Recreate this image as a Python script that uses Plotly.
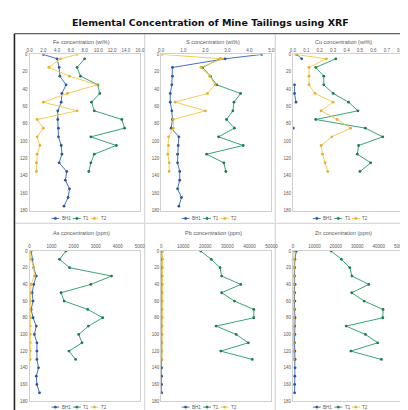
import plotly.graph_objects as go

W, H = 408, 410

# ---------------- data ----------------
depth_top = [0, 5, 15, 25, 35, 45, 55, 65, 75, 85, 95, 105, 115, 125, 135, 145, 155, 165, 175]
depth_bot = [0, 10, 20, 30, 40, 50, 60, 70, 80, 90, 100, 110, 120, 130, 140, 150, 160, 170]
series_names = ["BH1", "T1", "T2"]

fe_1 = [2.0, 4.0, 4.3, 4.4, 5.3, 4.7, 4.6, 4.1, 4.1, 4.2, 4.2, 4.6, 4.7, 4.3, 5.4, 5.2, 5.8, 5.6, 5.0]
fe_2 = [None, 8.0, 6.9, 7.4, 9.9, 10.2, 9.0, 9.4, 13.4, 13.8, 8.9, 12.6, 9.4, 8.9, 8.6]
fe_3 = [6.9, 4.5, 2.8, 5.8, 9.8, 5.5, 2.0, 6.9, 1.1, 2.0, 1.1, 1.5, 1.1, 1.0, 1.0]

s_1 = [4.56, 2.9, 0.51, 0.51, 0.48, 0.41, 0.41, 0.48, 0.51, 0.45, 0.80, 0.77, 0.74, 0.74, 0.84, 0.84, 0.74, 0.92, 0.80]
s_2 = [None, 2.67, 1.87, 2.23, 2.52, 3.60, 3.30, 3.25, 2.96, 3.32, 2.60, 3.72, 2.06, 2.84, 2.93]
s_3 = [0.05, 2.75, 1.80, 2.20, 2.45, 2.10, 0.63, 2.00, 0.55, 0.55, 0.33, 0.33, 0.30, 0.36, 0.36]

cu_1 = [0.03, 0.065, None, None, 0.012, 0.012, 0.023, None, None, 0.003]
cu_2 = [None, 0.32, 0.17, 0.23, 0.23, 0.30, 0.415, 0.485, 0.17, 0.54, 0.67, 0.49, 0.48, 0.58, 0.50]
cu_3 = [0.02, 0.25, 0.12, 0.12, 0.12, 0.165, 0.30, 0.21, 0.33, 0.43, 0.29, 0.21, 0.22, 0.24, 0.26]

as_1 = [73, 117, 190, 306, 190, 117, 160, 73, 160, 306, 219, 335, 335, 335, 408, 306, 335, 452]
as_2 = [1650, 1360, 1820, 3720, 2780, 1430, 1570, 2640, 3320, 2670, 2230, 2380, 1790, 2090]
as_3 = [40, 70, 190, 220, 70, 40, 40, 30, 40, 30, 30, 30, 30, 30]

pb_1 = [300, 250, 200, 200, 250, 200, 200, 150, 200, 200, 150, 150, 150, 200, 150, 150, 150, 200]
pb_2 = [17900, 22700, 26700, 27400, 36100, 27400, 33200, 42000, 42000, 24900, 34000, 39500, 27000, 41300]
pb_3 = [650, 600, 550, 500, 500, 450, 450, 400, 450, 400, 400, 400, 350, 350]

zn_1 = [1600, 900, 800, 750, 1000, 800, 900, 750, 1000, 800, 900, 750, 900, 1000, 1000, 900, 800, 800]
zn_2 = [17800, 22600, 26500, 27500, 35400, 27400, 33200, 42000, 41900, 24800, 33800, 39500, 27000, 41200]
zn_3 = [500, 450, 400, 400, 400, 350, 350, 350, 350, 300, 300, 300, 300, 300]

titles = ["Fe concentration (wt%)", "S concentration (wt%)", "Cu concentration (wt%)",
          "As concentration (ppm)", "Pb concentration (ppm)", "Zn concentration (ppm)"]
x_ranges = [(0, 16, 2), (0, 5, 1), (0, 0.8, 0.1), (0, 5000, 1000), (0, 50000, 10000), (0, 50000, 10000)]
x_formats = [".1f", ".1f", ".1f", "d", "d", "d"]
panels = [
    (depth_top, [fe_1, fe_2, fe_3]),
    (depth_top, [s_1, s_2, s_3]),
    (depth_top, [cu_1, cu_2, cu_3]),
    (depth_bot, [as_1, as_2, as_3]),
    (depth_bot, [pb_1, pb_2, pb_3]),
    (depth_bot, [zn_1, zn_2, zn_3]),
]

line_colors = ["#4472C4", "#3aa574", "#f6cb52"]
marker_colors = ["#2f5597", "#1f7a50", "#e3b130"]

# ---------------- layout geometry (pixels) ----------------
col_plot = [(19, 132), (154, 267), (289, 399)]
row_plot = [(45, 203), (244, 396)]
col_panel = [(4, 137), (137, 271), (271, 406)]
row_panel = [(24, 216), (216, 409)]
row_title_y = [32, 226]
row_legend_y = [211, 402]

def px(x):
    return x / W

def py(y):
    return 1 - y / H

fig = go.Figure()
shapes = []
annotations = []
axis_font = dict(family="Liberation Sans", size=4.5, color="#595959")

for i, (depth, vals) in enumerate(panels):
    r, c = divmod(i, 3)
    n = i + 1
    xa = "x" if n == 1 else f"x{n}"
    ya = "y" if n == 1 else f"y{n}"
    for k, v in enumerate(vals):
        fig.add_trace(go.Scatter(
            x=v, y=depth[:len(v)], mode="lines+markers", name=series_names[k],
            xaxis=xa, yaxis=ya, showlegend=False,
            line=dict(color=line_colors[k], width=1),
            marker=dict(color=marker_colors[k], size=2.8),
            connectgaps=False,
        ))
    x0, x1 = col_plot[c]
    y0, y1 = row_plot[r]
    lo, hi, step = x_ranges[i]
    xkey = "xaxis" if n == 1 else f"xaxis{n}"
    ykey = "yaxis" if n == 1 else f"yaxis{n}"
    fig.update_layout({
        xkey: dict(domain=[px(x0), px(x1)], range=[lo, hi], dtick=step, tick0=0,
                   side="top", tickformat=x_formats[i], anchor=ya, showgrid=False,
                   zeroline=False, showline=True, mirror=True, linecolor="#d0d0d0",
                   linewidth=1, ticks="", tickfont=axis_font),
        ykey: dict(domain=[py(y1), py(y0)], range=[180, 0], dtick=20, tick0=0,
                   anchor=xa, showgrid=False, zeroline=False, showline=True,
                   mirror=True, linecolor="#d0d0d0", linewidth=1, ticks="",
                   tickfont=axis_font),
    })
    # panel border
    pxa, pxb = col_panel[c]
    pya, pyb = row_panel[r]
    shapes.append(dict(type="rect", xref="paper", yref="paper",
                       x0=px(pxa), x1=px(pxb), y0=py(pyb), y1=py(pya),
                       line=dict(color="#d9d9d9", width=1), layer="below"))
    # panel title
    annotations.append(dict(text=titles[i], xref="paper", yref="paper",
                            x=px((x0 + x1) / 2 - 3), y=py(row_title_y[r]),
                            showarrow=False, xanchor="center", yanchor="middle",
                            font=dict(family="Liberation Sans", size=5.5, color="#595959")))
    # manual legend
    cx = (pxa + pxb) / 2
    ly = row_legend_y[r]
    widths = [22, 18, 18]
    start = cx - sum(widths) / 2
    for k in range(3):
        lx = start + sum(widths[:k])
        shapes.append(dict(type="line", xref="paper", yref="paper",
                           x0=px(lx), x1=px(lx + 8), y0=py(ly), y1=py(ly),
                           line=dict(color=line_colors[k], width=1)))
        shapes.append(dict(type="circle", xref="paper", yref="paper",
                           x0=px(lx + 2.8), x1=px(lx + 5.2), y0=py(ly + 1.2), y1=py(ly - 1.2),
                           line=dict(color=marker_colors[k], width=0.5),
                           fillcolor=marker_colors[k]))
        annotations.append(dict(text=series_names[k], xref="paper", yref="paper",
                                x=px(lx + 9.5), y=py(ly), showarrow=False,
                                xanchor="left", yanchor="middle", borderpad=0,
                                font=dict(family="Liberation Sans", size=4.5, color="#595959")))

# outer dark border (left and top)
shapes.append(dict(type="line", xref="paper", yref="paper",
                   x0=px(3.5), x1=px(3.5), y0=py(410), y1=py(24),
                   line=dict(color="#222222", width=1.5)))
shapes.append(dict(type="line", xref="paper", yref="paper",
                   x0=px(3.5), x1=px(408), y0=py(24), y1=py(24),
                   line=dict(color="#444444", width=1)))

annotations.append(dict(text="<b>Elemental Concentration of Mine Tailings using XRF</b>",
                        xref="paper", yref="paper", x=0.5, y=py(13), showarrow=False,
                        xanchor="center", yanchor="middle",
                        font=dict(family="DejaVu Sans", size=9.5, color="#111111")))

fig.update_layout(width=W, height=H, margin=dict(l=0, r=0, t=0, b=0),
                  paper_bgcolor="white", plot_bgcolor="white",
                  shapes=shapes, annotations=annotations, showlegend=False)

fig.write_html("out.html")
